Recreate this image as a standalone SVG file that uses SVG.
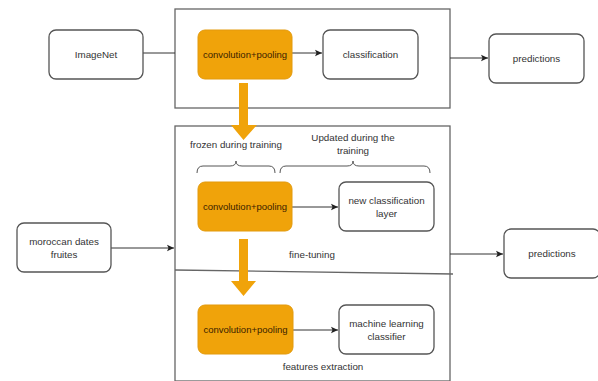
<svg xmlns="http://www.w3.org/2000/svg" width="598" height="381" viewBox="0 0 598 381">
<style>
.box{fill:#fff;stroke:#555;stroke-width:1.3}
.org{fill:#F0A30A;stroke:#E39A0C;stroke-width:1}
.frame{fill:none;stroke:#666;stroke-width:1.3}
.t{font-family:"Liberation Sans",Arial,sans-serif;font-size:9.8px;fill:#333;text-anchor:middle}
.tc{font-family:"Liberation Sans",Arial,sans-serif;font-size:9.5px;fill:#3a2200;text-anchor:middle}
.ln{fill:none;stroke:#333;stroke-width:1}
.br{fill:none;stroke:#555;stroke-width:1}
</style>
<defs>
<marker id="ah" markerWidth="8" markerHeight="8" refX="7" refY="4" orient="auto" markerUnits="userSpaceOnUse">
<path d="M0,0.8 L7,4 L0,7.2 L1.5,4 Z" fill="#222"/>
</marker>
</defs>
<rect width="598" height="381" fill="#fff"/>
<g id="frames">
<rect id="top-frame" class="frame" x="175" y="9" width="275" height="99"/>
<rect id="bottom-frame" class="frame" x="175" y="126" width="275" height="255"/>
<line class="frame" x1="175" y1="270" x2="453" y2="274"/>
</g>
<g id="connectors">
<line class="ln" x1="143" y1="53" x2="175" y2="53"/>
<line class="ln" x1="292" y1="53" x2="322" y2="53" marker-end="url(#ah)"/>
<line class="ln" x1="450" y1="58" x2="488" y2="58" marker-end="url(#ah)"/>
<line class="ln" x1="111" y1="248" x2="174" y2="248" marker-end="url(#ah)"/>
<line class="ln" x1="292" y1="207" x2="338" y2="207" marker-end="url(#ah)"/>
<line class="ln" x1="450" y1="254" x2="503" y2="254" marker-end="url(#ah)"/>
<line class="ln" x1="293" y1="330" x2="338" y2="330" marker-end="url(#ah)"/>
<path d="M239,83 H248 V125 H257 L243.5,140 L231,125 H239 Z" fill="#F0A30A"/>
<path d="M239,239 H248 V281 H256 L243.5,296 L231,281 H239 Z" fill="#F0A30A"/>
</g>
<g id="imagenet">
<rect class="box" x="49" y="30" width="94" height="49" rx="7"/>
<text class="t" x="96" y="57.5">ImageNet</text>
</g>
<g id="conv1">
<rect class="org" x="198" y="30" width="94" height="49" rx="7"/>
<text class="tc" x="245" y="57.5">convolution+pooling</text>
</g>
<g id="classification">
<rect class="box" x="323" y="30" width="95" height="49" rx="7"/>
<text class="t" x="370.5" y="57.5">classification</text>
</g>
<g id="predictions1">
<rect class="box" x="489" y="34" width="95" height="49" rx="7"/>
<text class="t" x="536.5" y="61.5">predictions</text>
</g>
<g id="frozen-label">
<text class="t" x="236" y="148">frozen during training</text>
<path class="br" d="M197,173 Q197,166 203,166 H230 Q236,166 236,161 Q236,166 242,166 H269 Q275,166 275,173"/>
</g>
<g id="updated-label">
<text class="t" x="353" y="141">Updated during the</text>
<text class="t" x="353" y="154">training</text>
<path class="br" d="M280,173 Q280,166 286,166 H347 Q353,166 353,161 Q353,166 359,166 H424 Q430,166 430,173"/>
</g>
<g id="conv2">
<rect class="org" x="198" y="182" width="94" height="49" rx="7"/>
<text class="tc" x="245" y="210">convolution+pooling</text>
</g>
<g id="new-classification">
<rect class="box" x="339" y="182" width="95" height="49" rx="7"/>
<text class="t" x="386.5" y="204">new classification</text>
<text class="t" x="386.5" y="217">layer</text>
</g>
<g id="moroccan">
<rect class="box" x="17" y="223" width="94" height="49" rx="7"/>
<text class="t" x="64" y="245">moroccan dates</text>
<text class="t" x="64" y="258">fruites</text>
</g>
<g id="fine-tuning-label">
<text class="t" x="312" y="258">fine-tuning</text>
</g>
<g id="predictions2">
<rect class="box" x="504" y="229" width="96" height="49" rx="7"/>
<text class="t" x="552" y="257">predictions</text>
</g>
<g id="conv3">
<rect class="org" x="198" y="305" width="95" height="49" rx="7"/>
<text class="tc" x="245.5" y="333">convolution+pooling</text>
</g>
<g id="ml-classifier">
<rect class="box" x="339" y="305" width="95" height="49" rx="7"/>
<text class="t" x="386.5" y="327">machine learning</text>
<text class="t" x="386.5" y="340">classifier</text>
</g>
<g id="features-label">
<text class="t" x="323" y="370">features extraction</text>
</g>
</svg>
